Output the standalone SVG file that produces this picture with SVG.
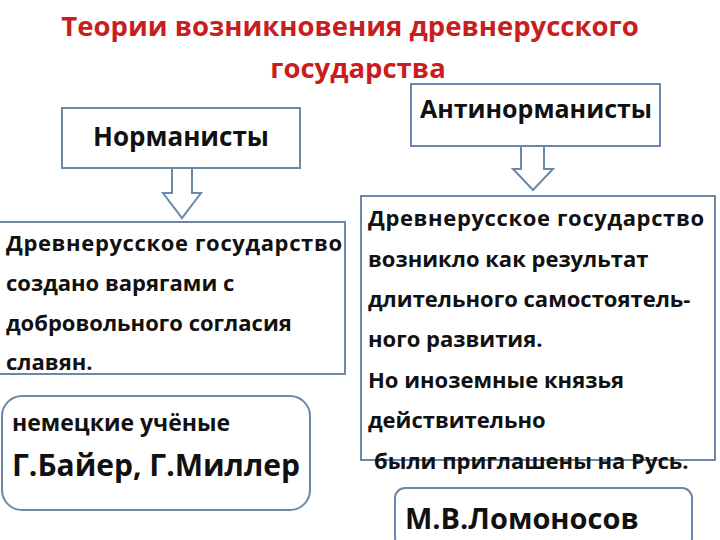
<svg xmlns="http://www.w3.org/2000/svg" width="720" height="540" viewBox="0 0 720 540">
<style>
text{font-family:"Open Sans","Liberation Sans",sans-serif;font-weight:bold;fill:#111}
.t{fill:#c81e1e;font-size:27.5px}
.b{fill:#fff;stroke:#6b88a8;stroke-width:2}
.x{font-size:22px}
.arr{fill:#fff;stroke:#6b88a8;stroke-width:2}
</style>
<rect width="720" height="540" fill="#fff"/>
<g id="title"><text class="t" x="350" y="36" text-anchor="middle">Теории возникновения древнерусского</text>
<text class="t" x="358" y="78" text-anchor="middle">государства</text></g>
<g id="normanists"><rect class="b" x="62" y="108" width="238" height="60"/><text x="181" y="146" text-anchor="middle" font-size="26">Норманисты</text></g>
<g id="antinormanists"><rect class="b" x="411" y="84" width="249" height="62"/><text x="536" y="118" text-anchor="middle" font-size="25">Антинорманисты</text></g>
<g id="connectors">
<path class="arr" d="M172 168H192V193H201L182 218L163 193H172Z"/>
<path class="arr" d="M521 146H544V169H553L533 190L513 169H521Z"/>
</g>
<g id="left-text"><rect class="b" x="-2" y="222" width="347" height="152"/>
<text class="x" x="6" y="251" textLength="336">Древнерусское государство</text>
<text class="x" x="6" y="291">создано варягами с</text>
<text class="x" x="6" y="331">добровольного согласия</text>
<text class="x" x="6" y="370">славян.</text></g>
<g id="right-text"><rect class="b" x="361" y="196" width="354" height="264"/>
<text class="x" x="368" y="226" textLength="336">Древнерусское государство</text>
<text class="x" x="368" y="267">возникло как результат</text>
<text class="x" x="368" y="307">длительного самостоятель-</text>
<text class="x" x="368" y="347">ного развития.</text>
<text class="x" x="368" y="388">Но иноземные князья</text>
<text class="x" x="368" y="428">действительно</text>
<text class="x" x="374" y="469">были приглашены на Русь.</text></g>
<g id="scholars"><rect class="b" x="2" y="396" width="308" height="114" rx="20"/>
<text x="12" y="431" font-size="23">немецкие учёные</text>
<text x="12" y="476" font-size="30">Г.Байер, Г.Миллер</text></g>
<g id="lomonosov"><rect class="b" x="395" y="488" width="297" height="60" rx="10"/>
<text x="405" y="529" font-size="29">М.В.Ломоносов</text></g>
</svg>
